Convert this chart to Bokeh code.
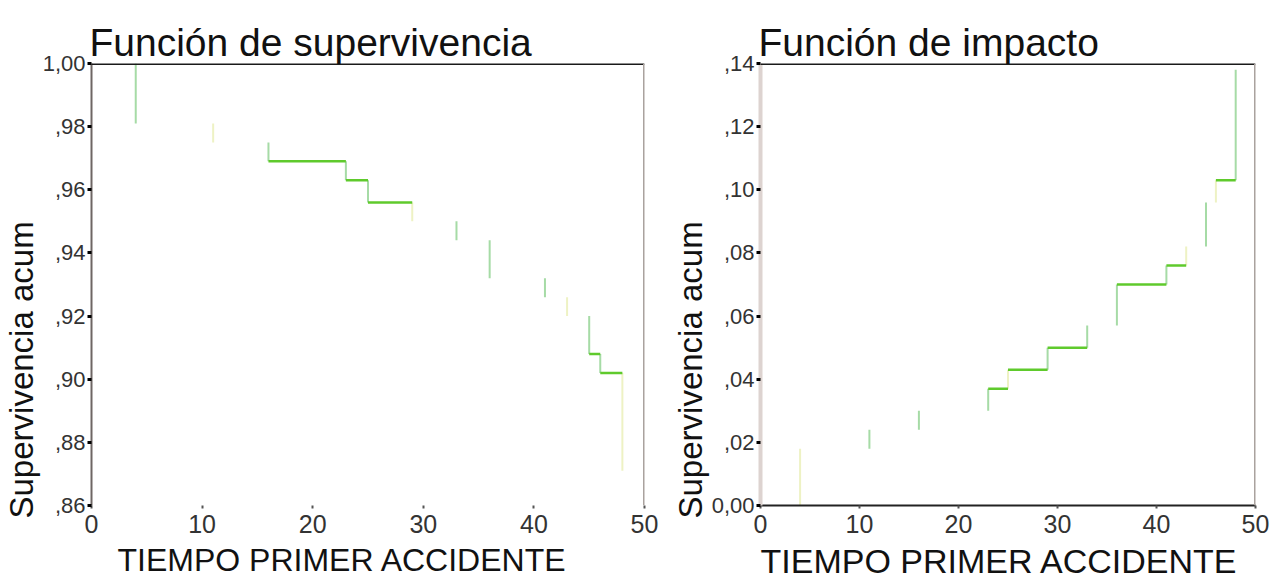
from bokeh.plotting import figure
from bokeh.layouts import row
from bokeh.models import FixedTicker, Range1d, Title, Span, CustomJSTickFormatter
from bokeh.embed import file_html
from bokeh.resources import INLINE

# ---------------- data ----------------
times = [4, 11, 16, 23, 25, 29, 33, 36, 41, 43, 45, 46, 48]
survival = [0.981, 0.975, 0.969, 0.963, 0.956, 0.950, 0.944, 0.932, 0.926, 0.920, 0.908, 0.902, 0.871]
impact = [0.018, 0.024, 0.030, 0.037, 0.043, 0.050, 0.057, 0.070, 0.076, 0.082, 0.096, 0.103, 0.138]
survival_start = 1.0
impact_start = 0.0

x_ticks = [0, 10, 20, 30, 40, 50]
surv_ticks = [0.86, 0.88, 0.90, 0.92, 0.94, 0.96, 0.98, 1.00]
surv_tick_labels = [",86", ",88", ",90", ",92", ",94", ",96", ",98", "1,00"]
imp_ticks = [0.00, 0.02, 0.04, 0.06, 0.08, 0.10, 0.12, 0.14]
imp_tick_labels = ["0,00", ",02", ",04", ",06", ",08", ",10", ",12", ",14"]

title_surv = "Función de supervivencia"
title_imp = "Función de impacto"
x_label = "TIEMPO PRIMER ACCIDENTE"
y_label = "Supervivencia acum"

# ---------------- style (how the faded scan shows the steps) ----------------
surv_pale_steps = [11, 29, 43, 48]
surv_flats_shown = [16, 23, 25, 45, 46]
imp_pale_steps = [4, 25, 43, 46]
imp_flats_shown = [23, 25, 29, 36, 41, 46]

FONT = "Liberation Sans"
STEP_COLOR = "#a6dba6"
PALE_COLOR = "#eef2c4"
FLAT_COLOR = "#5fca2c"


def tick_formatter(tvals, tlabels):
    return CustomJSTickFormatter(args=dict(tvals=tvals, tlabels=tlabels), code="""
let best = 0, d = Infinity;
for (let i = 0; i < tvals.length; i++) {
  const e = Math.abs(tvals[i] - tick);
  if (e < d) { d = e; best = i; }
}
return tlabels[best];
""")


def make_chart(title, values, start, yticks, ylabels, yr, width, left, right, top,
               pale_steps, flats_shown, left_axis_color, left_axis_width,
               bottom_line_color, xlab_offset, xlab_size, ylab_offset):
    height = 586
    bottom = 81
    p = figure(width=width, height=height, x_range=Range1d(0, 50), y_range=Range1d(*yr),
               output_backend="svg", toolbar_location=None,
               min_border_left=left, min_border_right=right,
               min_border_top=top, min_border_bottom=bottom)
    p.background_fill_color = "white"
    p.border_fill_color = "white"
    p.outline_line_color = None
    p.grid.visible = False

    p.title.text = title
    p.title.text_font = FONT
    p.title.text_font_size = "39px"
    p.title.text_font_style = "normal"
    p.title.text_color = "#111111"
    p.title.align = "left"
    p.title.offset = -2
    p.title.standoff = 0

    # steps
    prev = [start] + values[:-1]
    colors = [PALE_COLOR if t in pale_steps else STEP_COLOR for t in times]
    p.segment(x0=times, y0=prev, x1=times, y1=values, line_color=colors, line_width=2)

    fx0, fx1, fy = [], [], []
    for i in range(len(times) - 1):
        if times[i] in flats_shown:
            fx0.append(times[i])
            fx1.append(times[i + 1])
            fy.append(values[i])
    p.segment(x0=fx0, y0=fy, x1=fx1, y1=fy, line_color=FLAT_COLOR, line_width=2.5)

    # frame borders (top black, right grey)
    p.add_layout(Span(location=yr[1], dimension="width", line_color="#1a1a1a", line_width=3))
    p.add_layout(Span(location=50, dimension="height", line_color="#aaa29e", line_width=3))

    # y axis
    ya = p.yaxis[0]
    ya.ticker = FixedTicker(ticks=yticks)
    ya.formatter = tick_formatter(yticks, ylabels)
    ya.axis_line_color = left_axis_color
    ya.axis_line_width = left_axis_width
    ya.major_tick_line_color = "black"
    ya.major_tick_line_width = 3
    ya.major_tick_out = 4
    ya.major_tick_in = 0
    ya.minor_tick_line_color = None
    ya.major_label_text_font = FONT
    ya.major_label_text_font_size = "22px"
    ya.major_label_text_color = "#333333"
    ya.major_label_standoff = 2

    # x axis
    xa = p.xaxis[0]
    xa.ticker = FixedTicker(ticks=x_ticks)
    xa.axis_line_color = bottom_line_color
    xa.axis_line_width = 2
    xa.major_tick_line_color = "#555555"
    xa.major_tick_line_width = 2
    xa.major_tick_out = 3
    xa.major_tick_in = 0
    xa.minor_tick_line_color = None
    xa.major_label_text_font = FONT
    xa.major_label_text_font_size = "25px"
    xa.major_label_text_color = "#333333"
    xa.major_label_standoff = 6

    # axis titles
    p.add_layout(Title(text=x_label, align="left", offset=xlab_offset, standoff=9,
                       text_font=FONT, text_font_size=xlab_size, text_font_style="normal",
                       text_color="#111111"), "below")
    p.add_layout(Title(text=y_label, align="left", offset=ylab_offset, standoff=0,
                       text_font=FONT, text_font_size="33px", text_font_style="normal",
                       text_color="#111111"), "left")
    return p


p1 = make_chart(title_surv, survival, survival_start, surv_ticks, surv_tick_labels, (0.86, 1.00),
                660, 90, 16, 56, surv_pale_steps, surv_flats_shown, "#6e6664", 2, None,
                26, "32px", -13)
p2 = make_chart(title_imp, impact, impact_start, imp_ticks, imp_tick_labels, (0.0, 0.14),
                610, 100, 15, 63, imp_pale_steps, imp_flats_shown, "#ddd3d0", 4, "#222222",
                0, "34px", -13)

layout = row(p1, p2)
open("out.html", "w").write(file_html(layout, INLINE))
